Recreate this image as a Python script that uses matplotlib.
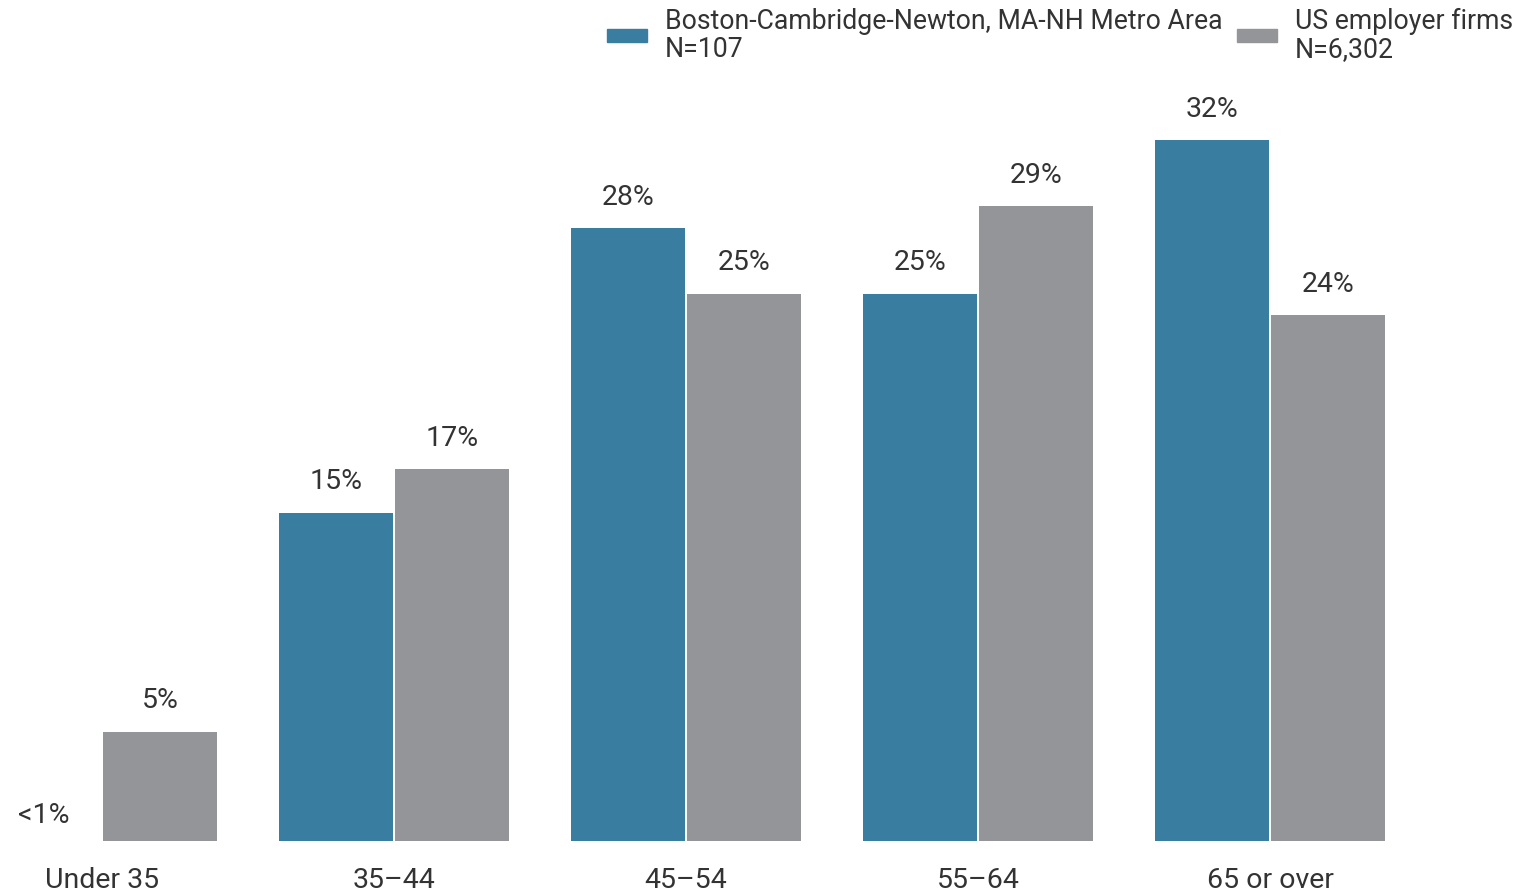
import matplotlib
matplotlib.use("Agg")
import matplotlib.pyplot as plt
from matplotlib.patches import Patch
import numpy as np

plt.rcParams['font.family'] = ['Roboto', 'DejaVu Sans']

categories = ["Under 35", "35\u201344", "45\u201354", "55\u201364", "65 or over"]
boston = [0.0, 15, 28, 25, 32]
us = [5, 17, 25, 29, 24]
boston_labels = ["<1%", "15%", "28%", "25%", "32%"]
us_labels = ["5%", "17%", "25%", "29%", "24%"]
series_names = ["Boston-Cambridge-Newton, MA-NH Metro Area\nN=107", "US employer firms\nN=6,302"]

BLUE = "#397DA0"
GRAY = "#949598"
TXT = "#333333"

W, H = 1525, 895
fig = plt.figure(figsize=(W/100, H/100), dpi=100)
ax = fig.add_axes([0, 0, 1, 1])

# pixel geometry mapping
x0_px, step_px = 102, 292
base_px, per_pct = 842, 21.9
ax.set_xlim(-x0_px/step_px, (W - x0_px)/step_px)
ax.set_ylim(-(H - base_px)/per_pct, base_px/per_pct)

x = np.arange(len(categories))
bw = 114/step_px
off = 58/step_px
b1 = ax.bar(x - off, boston, bw, color=BLUE, linewidth=0)
b2 = ax.bar(x + off, us, bw, color=GRAY, linewidth=0)

for rects, labels in ((b1, boston_labels), (b2, us_labels)):
    for r, lab in zip(rects, labels):
        h = r.get_height()
        ax.annotate(lab, (r.get_x() + r.get_width()/2, h), xytext=(0, 13 if h > 0 else 9.5),
                    textcoords='offset points', ha='center', va='bottom', fontsize=20.5, color=TXT)

for xi, c in zip(x, categories):
    ax.annotate(c, (xi, 0), xytext=(0, -18), textcoords='offset points', ha='center', va='top',
                fontsize=20.5, color=TXT)

ax.axis('off')

handles = [Patch(color=BLUE), Patch(color=GRAY)]
fs = 19.2
em = fs*100/72
leg = fig.legend(handles, series_names, loc='upper left', bbox_to_anchor=(607/W, 1 - 8/H), ncol=2,
                 frameon=False, fontsize=fs, handlelength=40/em, handleheight=11/em,
                 handletextpad=18/em, columnspacing=14/em, borderpad=0, borderaxespad=0,
                 labelcolor=TXT)
for t in leg.get_texts():
    t.set_linespacing(1.05)

fig.savefig("out.png", dpi=100)
